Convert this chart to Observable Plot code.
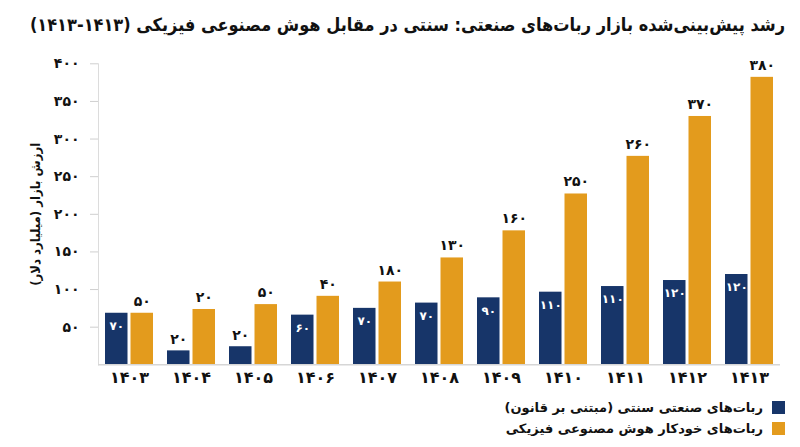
<!DOCTYPE html>
<html lang="fa">
<head>
<meta charset="utf-8">
<script src="https://cdn.jsdelivr.net/npm/d3@7"></script>
<script src="https://cdn.jsdelivr.net/npm/@observablehq/plot@0.6"></script>
<style>
  html, body { margin: 0; padding: 0; background: #fff; }
  body { width: 800px; height: 447px; overflow: hidden; font-family: "DejaVu Sans", sans-serif; }
  #title { height: 50px; line-height: 50px; direction: rtl; text-align: right; padding-right: 15px;
           font-family: "DejaVu Sans Condensed", "DejaVu Sans", sans-serif;
           font-size: 18px; font-weight: bold; color: #111; white-space: nowrap; }
  #chart svg { display: block; }
  #legend { direction: rtl; padding-right: 15px; margin-top: 2px; }
  .item { display: flex; align-items: center; height: 21px; font-size: 13px; font-weight: bold; color: #111; }
  .sw { width: 13px; height: 13px; margin-left: 9px; }
</style>
</head>
<body>
<div id="title">رشد پیش‌بینی‌شده بازار ربات‌های صنعتی: سنتی در مقابل هوش مصنوعی فیزیکی (۱۴۱۳-۱۴۱۳)</div>
<div id="chart"></div>
<div id="legend"></div>
<script>
// Data
const years = ["۱۴۰۳","۱۴۰۴","۱۴۰۵","۱۴۰۶","۱۴۰۷","۱۴۰۸","۱۴۰۹","۱۴۱۰","۱۴۱۱","۱۴۱۲","۱۴۱۳"];
const traditional = [68.5, 18.5, 24, 66, 75, 82, 89, 96.5, 104, 112, 120];
const physicalAI = [68.5, 73.5, 80, 91, 110, 142, 178, 227, 277, 330, 382];
const traditionalLabels = ["۷۰","۲۰","۲۰","۶۰","۷۰","۷۰","۹۰","۱۱۰","۱۱۰","۱۲۰","۱۲۰"];
const physicalAILabels = ["۵۰","۲۰","۵۰","۴۰","۱۸۰","۱۳۰","۱۶۰","۲۵۰","۲۶۰","۳۷۰","۳۸۰"];
const yTicks = [50, 100, 150, 200, 250, 300, 350, 400];
const yTickLabels = ["۵۰","۱۰۰","۱۵۰","۲۰۰","۲۵۰","۳۰۰","۳۵۰","۴۰۰"];
const seriesNames = ["ربات‌های صنعتی سنتی (مبتنی بر قانون)", "ربات‌های خودکار هوش مصنوعی فیزیکی"];
const colors = ["#173569", "#E39B1D"];
const yLabel = "ارزش بازار (میلیارد دلار)";

const rows = years.map((year, i) => ({
  year, trad: traditional[i], ai: physicalAI[i],
  tradLabel: traditionalLabels[i], aiLabel: physicalAILabels[i]
}));

const half = 12.75;
const chart = Plot.plot({
  width: 800,
  height: 345,
  marginLeft: 98,
  marginRight: 20,
  marginTop: 13.3,
  marginBottom: 30.7,
  style: { fontFamily: "DejaVu Sans, sans-serif", color: "#111", background: "#fff" },
  x: { domain: years, paddingInner: 0.226, paddingOuter: 0.113, label: null },
  y: { domain: [0, 400], label: null },
  marks: [
    Plot.frame({ anchor: "left", stroke: "#dcdcdc" }),
    Plot.axisY({ ticks: yTicks, tickFormat: d => yTickLabels[yTicks.indexOf(d)], tickSize: 8, tickPadding: 11,
                 stroke: "#cfcfcf", fontSize: 14, fontWeight: "bold", label: null }),
    Plot.axisX({ tickSize: 0, tickPadding: 7, fontSize: 16, fontWeight: "bold", label: null }),
    Plot.barY(rows, { x: "year", y: "trad", fill: colors[0], insetRight: 25.5 }),
    Plot.barY(rows, { x: "year", y: "ai", fill: colors[1], insetLeft: 25.5 }),
    Plot.ruleY([0], { stroke: "#d6d6d6", strokeWidth: 1.5 }),
    Plot.text(rows.filter(d => d.trad > 40), { x: "year", y: "trad", text: "tradLabel", dx: -half, dy: 13,
               fill: "white", fontSize: 12, fontWeight: "bold" }),
    Plot.text(rows.filter(d => d.trad <= 40), { x: "year", y: "trad", text: "tradLabel", dx: -half, dy: -11,
               fill: "#111", fontSize: 14, fontWeight: "bold" }),
    Plot.text(rows, { x: "year", y: "ai", text: "aiLabel", dx: half, dy: -12,
               fill: "#111", fontSize: 14, fontWeight: "bold" }),
    Plot.text([yLabel], { frameAnchor: "left", textAnchor: "middle", dx: -63, rotate: -90,
               fontFamily: "DejaVu Sans Condensed, DejaVu Sans, sans-serif",
               fontSize: 13, fontWeight: "bold", fill: "#111" })
  ]
});
document.getElementById("chart").appendChild(chart);

const legend = document.getElementById("legend");
seriesNames.forEach((name, i) => {
  const item = document.createElement("div");
  item.className = "item";
  const sw = document.createElement("span");
  sw.className = "sw";
  sw.style.background = colors[i];
  const t = document.createElement("span");
  t.textContent = name;
  item.appendChild(sw);
  item.appendChild(t);
  legend.appendChild(item);
});
</script>
</body>
</html>
